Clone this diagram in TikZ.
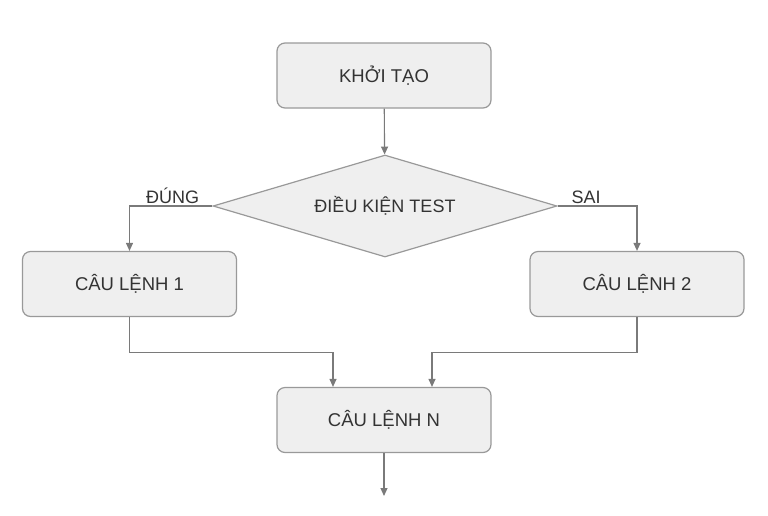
\documentclass[tikz,border=0pt]{standalone}
\usepackage{fontspec}
\setmainfont{Liberation Sans}
\usetikzlibrary{shapes.geometric,arrows.meta}
\definecolor{boxfill}{HTML}{EFEFEF}
\definecolor{boxline}{HTML}{999999}
\definecolor{flowline}{HTML}{7A7A7A}
\definecolor{labeltext}{HTML}{333333}
\tikzset{
    stepbox/.style={rectangle, rounded corners=8pt, draw=boxline, line width=1.2pt,
        fill=boxfill, minimum width=214pt, minimum height=65pt,
        text=labeltext, font=\fontsize{18.5}{22}\selectfont},
    testbox/.style={diamond, aspect=3.4, inner sep=0pt, draw=boxline, line width=1.2pt,
        fill=boxfill, minimum width=344pt, minimum height=102pt,
        text=labeltext, font=\fontsize{18}{22}\selectfont},
    flow/.style={draw=flowline, line width=1.1pt, -{Triangle[length=8pt,width=7pt]}},
    branch/.style={text=labeltext, font=\fontsize{18}{22}\selectfont, inner sep=2pt}
}
\begin{document}
\begin{tikzpicture}[x=1pt, y=-1pt]
    \useasboundingbox (0,0) rectangle (768,515);

    \node[stepbox] (init) at (384,75.5) {KHỞI TẠO};
    \node[testbox] (test) at (385,206) {ĐIỀU KIỆN TEST};
    \node[stepbox] (stmt1) at (129.5,284) {CÂU LỆNH 1};
    \node[stepbox] (stmt2) at (637,284) {CÂU LỆNH 2};
    \node[stepbox] (stmtn) at (384,420) {CÂU LỆNH N};
    \coordinate (out) at (384,496);

    \draw[flow] (init) -- (test);
    \draw[flow] (test.west) -| node[branch, above, pos=0.24] {ĐÚNG} (stmt1);
    \draw[flow] (test.east) -| node[branch, above, pos=0.18] {SAI} (stmt2);
    \draw[flow] (stmt1.south) -- ++(0,35) -| ([xshift=-51pt]stmtn.north);
    \draw[flow] (stmt2.south) -- ++(0,35) -| ([xshift=48pt]stmtn.north);
    \draw[flow] (stmtn) -- (out);
\end{tikzpicture}
\end{document}
